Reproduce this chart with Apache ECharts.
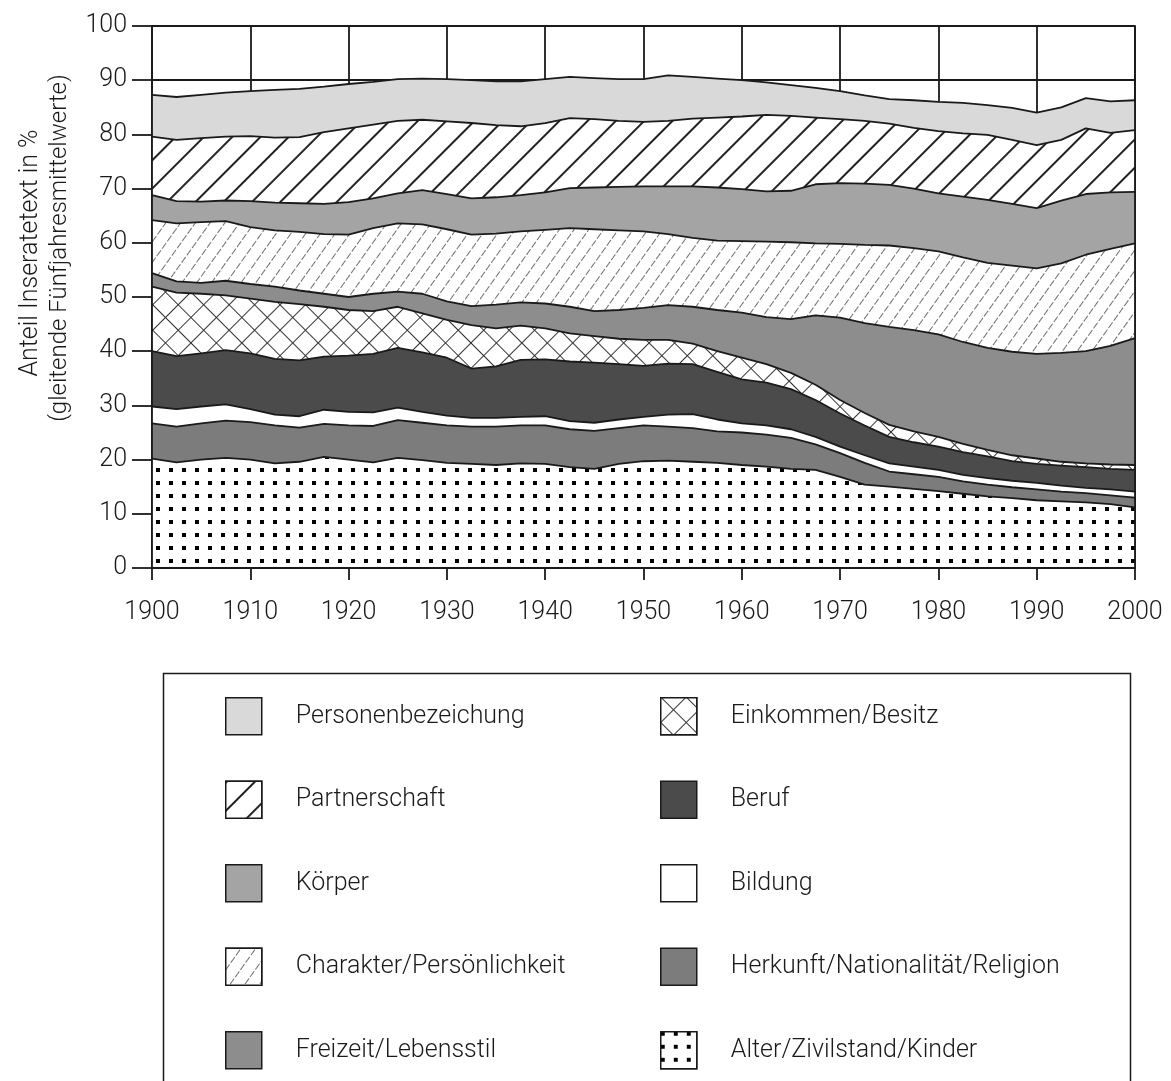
<!DOCTYPE html>
<html>
<head>
<meta charset="utf-8">
<title>Anteil Inseratetext</title>
<script src="https://cdn.jsdelivr.net/npm/echarts@6/dist/echarts.min.js"></script>
<style>
  html, body { margin: 0; padding: 0; background: #fff; }
  #chart { width: 1171px; height: 1081px; }
</style>
</head>
<body>
<div id="chart"></div>
<script>
var years = ['1900', '1902.5', '1905', '1907.5', '1910', '1912.5', '1915', '1917.5', '1920', '1922.5',
  '1925', '1927.5', '1930', '1932.5', '1935', '1937.5', '1940', '1942.5', '1945', '1947.5',
  '1950', '1952.5', '1955', '1957.5', '1960', '1962.5', '1965', '1967.5', '1970', '1972.5',
  '1975', '1977.5', '1980', '1982.5', '1985', '1987.5', '1990', '1992.5', '1995', '1997.5', '2000'];

var alter = [20.2, 19.5, 20.0, 20.3, 20.0, 19.3, 19.6, 20.5, 20.0, 19.5,
  20.3, 19.9, 19.4, 19.2, 19.0, 19.3, 19.2, 18.6, 18.3, 19.2,
  19.7, 19.8, 19.6, 19.4, 19.0, 18.7, 18.3, 18.1, 16.8, 15.4,
  15.0, 14.6, 14.2, 13.7, 13.2, 12.9, 12.5, 12.3, 12.1, 11.8, 11.2];
var herkunft = [6.5, 6.6, 6.7, 6.9, 6.9, 7.0, 6.3, 6.1, 6.3, 6.7,
  7.0, 6.9, 6.9, 6.9, 7.1, 7.0, 7.1, 7.0, 7.0, 6.6,
  6.6, 6.3, 6.2, 5.8, 6.0, 5.9, 5.7, 4.7, 4.4, 4.0,
  2.8, 2.7, 2.6, 2.3, 2.2, 2.0, 2.0, 1.8, 1.7, 1.6, 1.8];
var bildung = [3.1, 3.2, 3.1, 3.0, 2.4, 2.0, 2.1, 2.6, 2.5, 2.5,
  2.3, 2.0, 1.8, 1.6, 1.6, 1.6, 1.7, 1.5, 1.5, 1.6,
  1.6, 2.2, 2.6, 2.2, 1.7, 1.7, 1.6, 1.4, 1.2, 1.4,
  1.5, 1.4, 1.3, 1.2, 1.2, 1.2, 1.2, 1.1, 1.0, 1.1, 1.1];
var beruf = [10.2, 9.8, 9.8, 10.0, 10.3, 10.3, 10.3, 9.8, 10.4, 10.8,
  11.0, 11.0, 10.7, 9.1, 9.5, 10.5, 10.5, 11.0, 11.1, 10.2,
  9.4, 9.4, 9.2, 8.8, 8.1, 7.9, 7.4, 6.8, 6.1, 5.5,
  4.9, 4.5, 4.3, 4.2, 4.0, 3.6, 3.5, 3.7, 3.8, 3.8, 4.0];
var einkommen = [11.9, 11.7, 11.0, 10.1, 10.1, 10.5, 10.4, 9.2, 8.4, 7.9,
  7.6, 7.2, 7.0, 8.0, 7.0, 6.3, 5.7, 5.2, 4.9, 4.7,
  4.8, 4.4, 3.8, 3.8, 4.0, 3.4, 3.0, 2.8, 2.5, 2.3,
  2.2, 2.0, 1.8, 1.5, 1.2, 1.1, 1.0, 0.7, 0.7, 0.8, 0.9];
var freizeit = [2.5, 2.1, 2.0, 2.7, 2.7, 2.8, 2.5, 2.4, 2.4, 3.2,
  2.8, 3.6, 3.4, 3.5, 4.4, 4.3, 4.6, 4.9, 4.6, 5.3,
  5.9, 6.4, 6.8, 7.6, 8.3, 8.7, 9.9, 12.8, 15.2, 16.6,
  18.1, 18.7, 18.9, 18.8, 18.8, 19.1, 19.3, 20.1, 20.7, 21.9, 23.4];
var charakter = [9.8, 10.7, 11.2, 11.0, 10.5, 10.4, 10.8, 11.0, 11.5, 12.1,
  12.6, 12.8, 13.3, 13.2, 13.1, 13.1, 13.6, 14.5, 15.1, 14.7,
  14.1, 13.1, 12.7, 12.8, 13.2, 13.9, 14.2, 13.3, 13.6, 14.4,
  15.0, 15.1, 15.3, 15.6, 15.7, 15.9, 15.8, 16.5, 17.8, 17.9, 17.5];
var koerper = [4.6, 4.1, 3.8, 3.8, 4.8, 5.1, 5.3, 5.6, 6.0, 5.5,
  5.5, 6.3, 6.5, 6.7, 6.7, 6.7, 6.9, 7.4, 7.7, 8.0,
  8.3, 8.8, 9.5, 9.8, 9.6, 9.3, 9.5, 10.9, 11.2, 11.3,
  11.2, 11.0, 10.7, 11.2, 11.6, 11.4, 11.1, 11.6, 11.2, 10.4, 9.5];
var partnerschaft = [10.8, 11.3, 11.7, 11.8, 12.0, 12.0, 12.2, 13.2, 13.6, 13.6,
  13.4, 13.0, 13.4, 13.9, 13.3, 12.7, 12.8, 12.9, 12.6, 12.2,
  11.9, 12.1, 12.5, 12.9, 13.4, 14.1, 13.8, 12.3, 11.8, 11.6,
  11.3, 11.2, 11.5, 11.7, 12.0, 11.8, 11.6, 11.2, 12.1, 11.0, 11.4];
var personen = [7.7, 7.9, 8.0, 8.1, 8.3, 8.8, 8.9, 8.4, 8.2, 7.9,
  7.7, 7.6, 7.8, 7.9, 8.1, 8.3, 8.1, 7.6, 7.6, 7.7,
  7.9, 8.4, 7.7, 7.2, 6.7, 6.0, 5.7, 5.5, 5.2, 4.7,
  4.5, 5.1, 5.4, 5.6, 5.5, 5.9, 6.0, 6.0, 5.6, 5.8, 5.5];

var yTicks = [0, 100, 10];   // min, max, interval
var labelEvery = 3;           // jede 4. Stützstelle = Jahrzehnt

var ink = '#1a1a1a';
var fontFam = 'Roboto, "Open Sans", sans-serif';

// Muster
var dotDecal = { symbol: 'rect', symbolSize: 1, color: '#000', backgroundColor: '#fff',
  dashArrayX: [4, 9], dashArrayY: [4, 9] };
var crossDecal = { symbol: 'rect', symbolSize: 1, color: '#fff', backgroundColor: '#333',
  dashArrayX: [17, 1], dashArrayY: [17, 1], rotation: Math.PI / 4 };
var fineHatch = { symbol: 'rect', symbolSize: 1, color: '#6e6e6e', backgroundColor: '#fff',
  dashArrayX: [7, 2], dashArrayY: [1, 11], rotation: -0.95 };
var wideHatch = { symbol: 'rect', symbolSize: 1, color: '#222', backgroundColor: '#fff',
  dashArrayX: [1, 0], dashArrayY: [2, 18], rotation: -Math.PI / 4 };

// von unten nach oben gestapelt
var layers = [
  { name: 'Alter/Zivilstand/Kinder', values: alter, color: '#ffffff', decal: dotDecal },
  { name: 'Herkunft/Nationalität/Religion', values: herkunft, color: '#7c7c7c' },
  { name: 'Bildung', values: bildung, color: '#ffffff' },
  { name: 'Beruf', values: beruf, color: '#4b4b4b' },
  { name: 'Einkommen/Besitz', values: einkommen, color: '#ffffff', decal: crossDecal },
  { name: 'Freizeit/Lebensstil', values: freizeit, color: '#8d8d8d' },
  { name: 'Charakter/Persönlichkeit', values: charakter, color: '#ffffff', decal: fineHatch },
  { name: 'Körper', values: koerper, color: '#a4a4a4' },
  { name: 'Partnerschaft', values: partnerschaft, color: '#ffffff', decal: wideHatch },
  { name: 'Personenbezeichung', values: personen, color: '#d9d9d9' }
];

var series = layers.map(function (l, i) {
  var s = {
    name: l.name,
    type: 'line',
    stack: 'anteil',
    symbol: 'none',
    silent: true,
    z: 12 - i,
    data: l.values,
    lineStyle: { color: ink, width: 1.8 },
    itemStyle: { color: l.color },
    areaStyle: { color: l.color, opacity: 1 }
  };
  if (l.decal) { s.itemStyle.decal = l.decal; s.lineStyle.decal = l.decal; }
  return s;
});

function legendItems(names) {
  return names.map(function (n) {
    var l = layers.filter(function (x) { return x.name === n; })[0];
    var st = { color: l.color, borderColor: ink, borderWidth: 1.5 };
    if (l.decal) st.decal = l.decal;
    return { name: n, itemStyle: st };
  });
}

var legendBase = {
  orient: 'vertical',
  top: 697,
  icon: 'rect',
  itemWidth: 36,
  itemHeight: 37,
  itemGap: 45,
  padding: 0,
  selectedMode: false,
  textStyle: { fontSize: 25, fontWeight: 300, color: ink, fontFamily: fontFam, padding: [0, 0, 0, 29] }
};

var axisFont = { fontSize: 25, fontWeight: 300, color: ink, fontFamily: fontFam };
var axisPen = { color: ink, width: 1.8 };

var option = {
  animation: false,
  backgroundColor: '#fff',
  grid: { left: 152, right: 36, top: 26, bottom: 513 },
  xAxis: [
    { type: 'category', data: years, boundaryGap: false, position: 'bottom', z: 30,
      axisLine: { show: true, onZero: false, lineStyle: axisPen },
      axisTick: { show: true, length: 12, interval: labelEvery, lineStyle: axisPen },
      axisLabel: Object.assign({ margin: 32, interval: labelEvery }, axisFont),
      splitLine: { show: false } },
    { type: 'category', data: years, boundaryGap: false, position: 'bottom', z: 0,
      axisLine: { show: false }, axisTick: { show: false }, axisLabel: { show: false },
      splitLine: { show: true, interval: labelEvery, lineStyle: axisPen } }
  ],
  yAxis: [
    { type: 'value', min: yTicks[0], max: yTicks[1], interval: yTicks[2], position: 'left', z: 30,
      axisLine: { show: true, lineStyle: axisPen },
      axisTick: { show: true, length: 20, lineStyle: axisPen },
      axisLabel: Object.assign({ margin: 25 }, axisFont),
      splitLine: { show: false } },
    { type: 'value', min: yTicks[0], max: yTicks[1], interval: yTicks[2], position: 'right', z: 30,
      axisLine: { show: true, lineStyle: axisPen },
      axisTick: { show: false }, axisLabel: { show: false }, splitLine: { show: false } },
    { type: 'value', min: yTicks[0], max: yTicks[1], interval: yTicks[2], position: 'left', z: 0,
      axisLine: { show: false }, axisTick: { show: false }, axisLabel: { show: false },
      splitLine: { show: true, lineStyle: axisPen } }
  ],
  legend: [
    Object.assign({ left: 225, data: legendItems(['Personenbezeichung', 'Partnerschaft', 'Körper',
      'Charakter/Persönlichkeit', 'Freizeit/Lebensstil']) }, legendBase),
    Object.assign({ left: 660, data: legendItems(['Einkommen/Besitz', 'Beruf', 'Bildung',
      'Herkunft/Nationalität/Religion', 'Alter/Zivilstand/Kinder']) }, legendBase)
  ],
  graphic: [
    { type: 'text', x: 31, y: 253, rotation: Math.PI / 2,
      style: { text: 'Anteil Inseratetext in %', fill: ink, font: '300 25px ' + fontFam,
        textAlign: 'center', textVerticalAlign: 'middle', align: 'center', verticalAlign: 'middle' } },
    { type: 'text', x: 60, y: 248, rotation: Math.PI / 2,
      style: { text: '(gleitende Fünfjahresmittelwerte)', fill: ink, font: '300 24px ' + fontFam,
        textAlign: 'center', textVerticalAlign: 'middle', align: 'center', verticalAlign: 'middle' } },
    { type: 'rect', left: 161, top: 671, z: -1,
      shape: { width: 967, height: 430 },
      style: { fill: 'none', stroke: ink, lineWidth: 1.5 } }
  ],
  series: series
};

var chart = echarts.init(document.getElementById('chart'));
chart.setOption(option);
</script>
</body>
</html>
